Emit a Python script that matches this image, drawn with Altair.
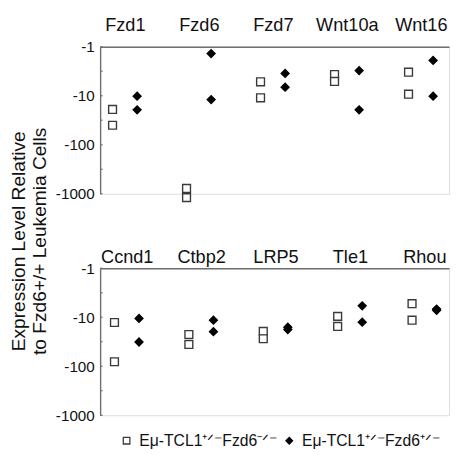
import json
import altair as alt
import pandas as pd

SERIES = ["Eμ-TCL1⁺ᐟ⁻Fzd6⁻ᐟ⁻", "Eμ-TCL1⁺ᐟ⁻Fzd6⁺ᐟ⁻"]

top_genes = ["Fzd1", "Fzd6", "Fzd7", "Wnt10a", "Wnt16"]
top_ko = [[-19, -40], [-780, -1200], [-5.2, -11], [-3.7, -5.1], [-3.3, -9.3]]
top_het = [[-10.2, -19.4], [-1.38, -12], [-3.5, -6.7], [-3.07, -19.4], [-1.9, -10.2]]

bot_genes = ["Ccnd1", "Ctbp2", "LRP5", "Tle1", "Rhou"]
bot_ko = [[-12.8, -81], [-22.6, -36], [-19.5, -27.5], [-9.6, -15.4], [-5.3, -11.5]]
bot_het = [[-10.6, -32], [-11.5, -19.7], [-16.0, -17.8], [-5.85, -12.6], [-6.8, -7.2]]

y_labels = [-1, -10, -100, -1000]
y_ticks = [-1, -3.162, -10, -31.62, -100, -316.2, -1000]

FONT = "Liberation Sans"
AXIS_GRAY = "#6e6e6e"
TXT = "#111111"


def make_df(genes, ko, het):
    rows = []
    for i, g in enumerate(genes):
        for v in ko[i]:
            rows.append(dict(idx=i, gene=g, series=SERIES[0], side=-1, value=v))
        for v in het[i]:
            rows.append(dict(idx=i, gene=g, series=SERIES[1], side=1, value=v))
    return pd.DataFrame(rows)


legend = alt.Legend(
    orient="none", legendX=19, legendY=394, direction="horizontal", title=None,
    labelFontSize=16, labelFont=FONT, labelColor=TXT, symbolSize=45,
    symbolStrokeWidth=1.3, labelOffset=5, columnPadding=5, padding=0, labelLimit=400,
)


def panel(genes, ko, het, d0, d1, off, xpad, width, title):
    df = make_df(genes, ko, het)
    yaxis_kw = dict(
        values=[0, 1, 2, 3], labelExpr="'-' + pow(10, datum.value)", ticks=False, tickSize=0,
        labelPadding=6, grid=False, domainColor=AXIS_GRAY, domainWidth=1.4,
        labelFontSize=15.5, labelFont=FONT, labelColor=TXT,
    )
    if title:
        yaxis_kw.update(
            title=["Expression Level Relative", "to Fzd6+/+ Leukemia Cells"],
            titleAngle=270, titleBaseline="middle", titleAlign="center",
            titleX=-83, titleY=198, titleLineHeight=21, titleFontSize=19.5,
            titleFontWeight="normal", titleFont=FONT, titleColor=TXT,
        )
    else:
        yaxis_kw.update(title=None)
    yaxis = alt.Axis(**yaxis_kw)
    yscale = alt.Scale(domain=[0, 3], reverse=True, nice=False, zero=False)

    pts = alt.Chart(df).transform_calculate(
        ly="log(-datum.value)/LN10", pos=f"datum.idx + datum.side*{off}"
    ).mark_point(filled=True, size=64, strokeWidth=1.4, opacity=1).encode(
        x=alt.X("pos:Q", scale=alt.Scale(domain=[d0, d1], nice=False, zero=False),
                axis=alt.Axis(orient="top", values=[0, 1, 2, 3, 4],
                              labelExpr=json.dumps(genes) + "[datum.value]",
                              ticks=False, tickSize=0, labelPadding=xpad, grid=False,
                              title=None, domainColor=AXIS_GRAY, domainWidth=1.4,
                              labelFontSize=18.5, labelFont=FONT, labelColor=TXT)),
        y=alt.Y("ly:Q", scale=yscale, axis=yaxis),
        shape=alt.Shape("series:N", scale=alt.Scale(domain=SERIES, range=["square", "diamond"]), legend=legend),
        fill=alt.Fill("series:N", scale=alt.Scale(domain=SERIES, range=["white", "black"]), legend=legend),
        stroke=alt.Stroke("series:N", scale=alt.Scale(domain=SERIES, range=["#3a3a3a", "black"]), legend=legend),
    )
    tdf = pd.DataFrame({"value": y_ticks})
    ticks = alt.Chart(tdf).transform_calculate(
        ly="log(-datum.value)/LN10"
    ).mark_rule(color=AXIS_GRAY, strokeWidth=1.2).encode(
        y=alt.Y("ly:Q", scale=yscale, axis=yaxis),
        x=alt.value(0), x2=alt.value(2.5),
    )
    return alt.layer(pts, ticks).properties(width=width, height=150)


top = panel(top_genes, top_ko, top_het, -0.334, 4.381, 0.166, 13, 356, True)
bot = panel(bot_genes, bot_ko, bot_het, -0.358, 4.332, 0.165, 2, 356, False)

chart = alt.vconcat(top, bot, spacing=76, bounds="flush").resolve_scale(
    x="independent", y="independent", shape="shared", fill="shared", stroke="shared"
).resolve_legend(shape="shared", fill="shared", stroke="shared").properties(
    padding={"left": 0, "top": 2, "right": 0, "bottom": 0}
).configure_view(stroke=None).configure(font=FONT)

chart.save("out.html", embed_options={"renderer": "svg", "actions": False})
